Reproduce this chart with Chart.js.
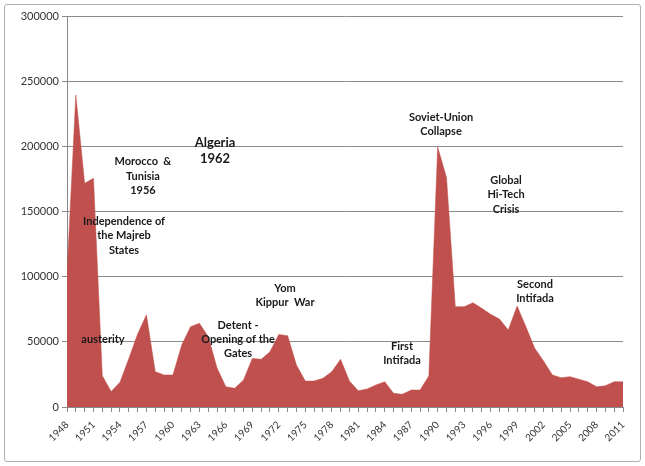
<!DOCTYPE html>
<html>
<head>
<meta charset="utf-8">
<script src="https://cdn.jsdelivr.net/npm/chart.js@4/dist/chart.umd.min.js"></script>
<style>
  body { margin: 0; background: #fff; }
  #frame { position: absolute; left: 4px; top: 4px; width: 635px; height: 456px; border: 1px solid #b0b0b0; border-radius: 3px; }
  #c { position: absolute; left: 0; top: 0; }
</style>
</head>
<body>
<div id="frame"></div>
<canvas id="c" width="645" height="466"></canvas>
<script>
const years = []
for (let y = 1948; y <= 2011; y++) years.push(String(y))

const immigrants = [
  102000, 239400, 171600, 175500, 24000, 11800, 18900, 37000, 56000, 70800,
  27100, 24600, 24500, 47600, 61600, 64200, 54000, 30000, 15600, 14300,
  20700, 37300, 36600, 42400, 55700, 54700, 32200, 19900, 19900, 22000,
  27100, 36600, 19900, 12500, 13800, 16900, 19400, 10500, 9700, 13000,
  13000, 23800, 199500, 176100, 77000, 77000, 80000, 75700, 71100, 67500,
  59100, 77500, 61600, 45000, 35300, 24600, 22500, 23300, 21300, 19400,
  15600, 16300, 19400, 19400
]

const yTicks = [0, 50000, 100000, 150000, 200000, 250000, 300000]

// notes placed in data space: x = category index, y = value of first line
const notes = [
  { lines: ['Morocco  &', 'Tunisia', '1956'], x: 8.6, y: 188200, size: 11, lh: 14.5 },
  { lines: ['Algeria', '1962'], x: 16.77, y: 202600, size: 13, lh: 16 },
  { lines: ['Independence of', 'the Majreb', 'States'], x: 6.46, y: 142700, size: 11, lh: 14.5 },
  { lines: ['austerity'], x: 4.08, y: 52200, size: 11, lh: 14 },
  { lines: ['Detent -', 'Opening of the', 'Gates'], x: 19.38, y: 62900, size: 11, lh: 14.3 },
  { lines: ['Yom', 'Kippur  War'], x: 24.7, y: 91300, size: 11, lh: 14.5 },
  { lines: ['First', 'Intifada'], x: 37.96, y: 46800, size: 11, lh: 14.5 },
  { lines: ['Soviet-Union', 'Collapse'], x: 42.38, y: 222500, size: 11, lh: 14.5 },
  { lines: ['Global', 'Hi-Tech', 'Crisis'], x: 49.75, y: 174200, size: 11, lh: 14.5 },
  { lines: ['Second', 'Intifada'], x: 53.03, y: 94400, size: 11, lh: 14.5 }
]

const notesPlugin = {
  id: 'notes',
  afterDatasetsDraw(chart) {
    const { ctx, scales } = chart
    ctx.save()
    ctx.fillStyle = '#1a1a1a'
    ctx.textAlign = 'center'
    ctx.textBaseline = 'middle'
    notes.forEach((n) => {
      const px = scales.x.getPixelForValue(n.x)
      const py = scales.y.getPixelForValue(n.y)
      ctx.font = 'bold ' + n.size + 'px Lato, "Open Sans", sans-serif'
      n.lines.forEach((t, i) => ctx.fillText(t, px, py + i * n.lh))
    })
    ctx.restore()
  }
}

new Chart(document.getElementById('c'), {
  type: 'line',
  data: {
    labels: years,
    datasets: [{
      data: immigrants,
      fill: 'origin',
      backgroundColor: '#c0504d',
      borderColor: '#c0504d',
      borderWidth: 0.5,
      pointRadius: 0,
      tension: 0
    }]
  },
  options: {
    responsive: false,
    animation: false,
    devicePixelRatio: 1,
    layout: { padding: { left: 0, right: 22, top: 16, bottom: 0 } },
    plugins: { legend: { display: false }, tooltip: { enabled: false } },
    scales: {
      x: {
        offset: false,
        grid: { display: true, drawOnChartArea: false, drawTicks: true, tickLength: 5, color: '#888' },
        border: { color: '#888' },
        ticks: {
          autoSkip: false,
          maxRotation: 45,
          minRotation: 45,
          color: '#333',
          padding: 7,
          font: { family: 'Lato, "Open Sans", sans-serif', size: 10 },
          callback: (v, i) => (i % 3 === 0 ? years[i] : '')
        },
        afterFit: (s) => { s.height = 59 }
      },
      y: {
        min: 0,
        max: 300000,
        afterBuildTicks: (s) => { s.ticks = yTicks.map((v) => ({ value: v })) },
        grid: { color: '#8c8c8c', tickLength: 5 },
        border: { color: '#888' },
        ticks: {
          color: '#333',
          padding: 3,
          font: { family: 'Lato, "Open Sans", sans-serif', size: 11 },
          callback: (v) => String(v)
        },
        afterFit: (s) => { s.width = 67 }
      }
    }
  },
  plugins: [notesPlugin]
})
</script>
</body>
</html>
